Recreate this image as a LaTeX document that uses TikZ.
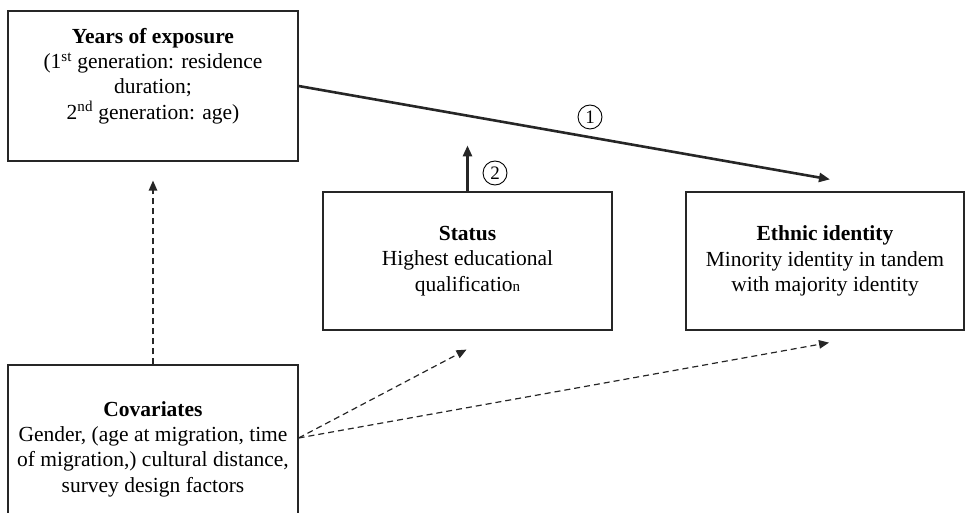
\documentclass[tikz,border=0pt]{standalone}
\usepackage{fontspec}
\setmainfont{Liberation Serif}
\usetikzlibrary{arrows.meta,calc}
\begin{document}
\begin{tikzpicture}[x=1pt,y=-1pt,
  box/.style={draw=black!85,line width=1.2pt,rectangle,align=center,inner sep=0pt,
    font=\fontsize{21.5}{25.3}\selectfont},
  solidarrow/.style={line width=2.6pt,draw=black!85,-{Triangle[length=11pt,width=9pt]}},
  dasharrow/.style={line width=1.2pt,draw=black!85,dash pattern=on 6pt off 4pt,
    -{Triangle[length=10pt,width=8.5pt]}},
  marker/.style={circle,draw=black,line width=0.9pt,inner sep=0pt,minimum size=24pt,
    font=\fontsize{19}{19}\selectfont}]
\useasboundingbox (0,0) rectangle (972,513);
\begin{scope}
\clip (0,0) rectangle (972,513);
\node[box,minimum width=290pt,minimum height=150pt,
  label={[align=center,yshift=10pt,font=\fontsize{21.5}{25.3}\selectfont]center:{\textbf{Years of exposure}\\(1\textsuperscript{st} generation: residence\\duration;\\2\textsuperscript{nd} generation: age)}}]
  (years) at (153,86) {};
\node[box,minimum width=289pt,minimum height=138pt] (status) at (467.5,261)
  {\textbf{Status}\\Highest educational\\qualificatio{\fontsize{15}{15}\selectfont n}};
\node[box,minimum width=278pt,minimum height=138pt] (ethnic) at (825,261)
  {\textbf{Ethnic identity}\\Minority identity in tandem\\with majority identity};
\node[box,minimum width=290pt,minimum height=168pt] (cov) at (153,449)
  {\textbf{Covariates}\\Gender, (age at migration, time\\of migration,) cultural distance,\\survey design factors};
\end{scope}
% effect paths
\coordinate (ethtop) at ($(ethnic.north)+(5,-12)$);
\coordinate (stattop) at ($(status.north)+(0,-46)$);
\draw[solidarrow] (years.east) -- (ethtop);
\draw[solidarrow] (status.north) -- (stattop);
\node[marker] (m1) at (590,117) {1};
\node[marker] (m2) at (495,173) {2};
% covariate paths
\coordinate (covout) at ($(cov.east)+(0,-11)$);
\coordinate (yearsin) at ($(years.south)+(0,19)$);
\coordinate (statin) at ($(status.south)+(-1,19)$);
\coordinate (ethin) at ($(ethnic.south)+(4,12)$);
\draw[dasharrow] (cov.north) -- (yearsin);
\draw[dasharrow] (covout) -- (statin);
\draw[dasharrow] (covout) -- (ethin);
\end{tikzpicture}
\end{document}
